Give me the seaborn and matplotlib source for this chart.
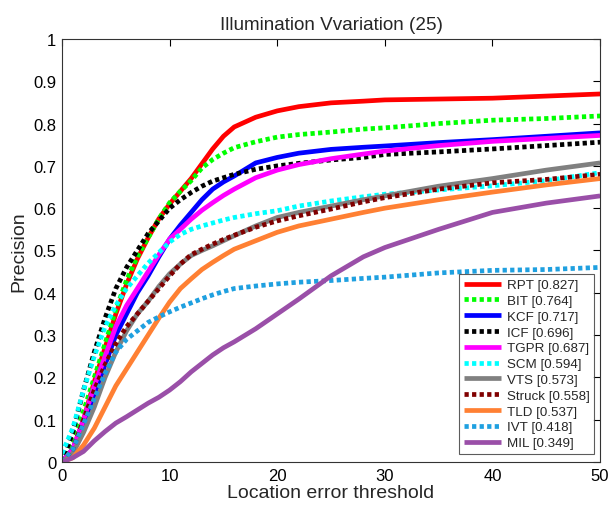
import matplotlib
matplotlib.use("Agg")
import matplotlib.pyplot as plt
import seaborn as sns
import pandas as pd

thresholds = [0, 1, 2, 3, 4, 5, 6, 7, 8, 9, 10, 11, 12, 13, 14, 15, 16, 18, 20, 22, 25, 28, 30, 35, 40, 45, 50]

trackers = ["RPT", "BIT", "KCF", "ICF", "TGPR", "SCM", "VTS", "Struck", "TLD", "IVT", "MIL"]
scores = [0.827, 0.764, 0.717, 0.696, 0.687, 0.594, 0.573, 0.558, 0.537, 0.418, 0.349]

rpt = [0, 0.03, 0.10, 0.19, 0.27, 0.35, 0.42, 0.48, 0.53, 0.575, 0.61, 0.64, 0.67, 0.705, 0.74, 0.77, 0.792, 0.815, 0.83, 0.84, 0.849, 0.853, 0.856, 0.858, 0.86, 0.865, 0.87]
bit = [0, 0.04, 0.12, 0.20, 0.28, 0.36, 0.43, 0.485, 0.53, 0.575, 0.613, 0.64, 0.665, 0.695, 0.715, 0.73, 0.743, 0.757, 0.768, 0.774, 0.78, 0.787, 0.79, 0.80, 0.808, 0.812, 0.818]
kcf = [0, 0.03, 0.09, 0.16, 0.23, 0.30, 0.35, 0.40, 0.44, 0.485, 0.527, 0.56, 0.59, 0.62, 0.645, 0.662, 0.676, 0.707, 0.72, 0.73, 0.739, 0.744, 0.747, 0.755, 0.762, 0.77, 0.778]
icf = [0, 0.07, 0.17, 0.26, 0.34, 0.41, 0.46, 0.50, 0.54, 0.57, 0.60, 0.62, 0.637, 0.652, 0.664, 0.672, 0.68, 0.692, 0.70, 0.706, 0.714, 0.72, 0.727, 0.733, 0.74, 0.748, 0.756]
tgpr = [0, 0.03, 0.10, 0.18, 0.25, 0.32, 0.37, 0.41, 0.45, 0.49, 0.527, 0.55, 0.574, 0.595, 0.613, 0.63, 0.645, 0.672, 0.69, 0.703, 0.717, 0.728, 0.735, 0.748, 0.758, 0.765, 0.772]
scm = [0.02, 0.08, 0.17, 0.25, 0.32, 0.37, 0.41, 0.44, 0.47, 0.495, 0.52, 0.538, 0.55, 0.558, 0.565, 0.572, 0.578, 0.587, 0.594, 0.605, 0.617, 0.627, 0.633, 0.643, 0.653, 0.665, 0.684]
vts = [0, 0.02, 0.07, 0.13, 0.20, 0.26, 0.31, 0.35, 0.38, 0.415, 0.445, 0.468, 0.488, 0.50, 0.511, 0.523, 0.535, 0.558, 0.578, 0.59, 0.605, 0.62, 0.629, 0.652, 0.67, 0.69, 0.707]
struck = [0, 0.03, 0.10, 0.17, 0.23, 0.28, 0.32, 0.35, 0.38, 0.41, 0.44, 0.468, 0.49, 0.503, 0.515, 0.526, 0.536, 0.555, 0.57, 0.582, 0.598, 0.615, 0.625, 0.645, 0.66, 0.668, 0.68]
tld = [0, 0.01, 0.04, 0.08, 0.13, 0.18, 0.22, 0.26, 0.30, 0.34, 0.378, 0.41, 0.433, 0.455, 0.472, 0.488, 0.503, 0.523, 0.543, 0.558, 0.574, 0.59, 0.60, 0.62, 0.638, 0.655, 0.67]
ivt = [0, 0.03, 0.09, 0.15, 0.21, 0.26, 0.29, 0.31, 0.33, 0.343, 0.355, 0.366, 0.376, 0.386, 0.395, 0.403, 0.41, 0.416, 0.421, 0.425, 0.429, 0.434, 0.437, 0.447, 0.453, 0.455, 0.46]
mil = [0, 0.01, 0.025, 0.05, 0.072, 0.092, 0.107, 0.123, 0.139, 0.153, 0.17, 0.19, 0.213, 0.233, 0.253, 0.27, 0.284, 0.315, 0.35, 0.385, 0.44, 0.485, 0.507, 0.55, 0.59, 0.612, 0.629]

series = [rpt, bit, kcf, icf, tgpr, scm, vts, struck, tld, ivt, mil]
colors = ["#FF0000", "#00FF00", "#0000FF", "#000000", "#FF00FF", "#00FFFF",
          "#808080", "#800000", "#FF8033", "#1FA0E0", "#9A4FA8"]
dotted = [False, True, False, True, False, True, False, True, False, True, False]

sns.set_style("white")
plt.rcParams["font.family"] = ["Liberation Sans", "DejaVu Sans"]

fig = plt.figure(figsize=(6.08, 5.06), dpi=100)
ax = fig.add_axes([0.102, 0.085, 0.885, 0.836])

for name, sc, vals, col, dot in zip(trackers, scores, series, colors, dotted):
    df = pd.DataFrame({"x": thresholds, "y": vals})
    sns.lineplot(data=df, x="x", y="y", ax=ax, color=col, linewidth=3.4,
                 label=f"{name} [{sc:.3f}]", legend=False)
    line = ax.lines[-1]
    line.set_solid_capstyle("butt")
    line.set_solid_joinstyle("round")
    if dot:
        line.set_linestyle((0, (0.9, 0.7)))
        line.set_dash_capstyle("butt")

ax.set_xlim(0, 50)
ax.set_ylim(0, 1)
ax.set_xticks([0, 10, 20, 30, 40, 50])
ax.set_yticks([i / 10 for i in range(11)])
ax.set_yticklabels(["0", "0.1", "0.2", "0.3", "0.4", "0.5", "0.6", "0.7", "0.8", "0.9", "1"])
ax.tick_params(direction="in", length=5, width=0.8, top=True, right=True,
               labelsize=12, colors="black", pad=4)
for s in ax.spines.values():
    s.set_color("#333333")
    s.set_linewidth(0.8)
    s.set_visible(True)

ax.set_xlabel("Location error threshold", fontsize=14, labelpad=1)
ax.set_ylabel("Precision", fontsize=14, labelpad=4)
ax.set_title("Illumination Vvariation (25)", fontsize=13.6, pad=7)

leg = ax.legend(loc="lower right", bbox_to_anchor=(0.989, 0.019), fontsize=9.6,
                frameon=True, fancybox=False, edgecolor="#333333",
                handlelength=2.8, handletextpad=0.4, labelspacing=0.26,
                borderpad=0.35, borderaxespad=0.0)
leg.get_frame().set_linewidth(0.8)

fig.savefig("out.png", dpi=100)
